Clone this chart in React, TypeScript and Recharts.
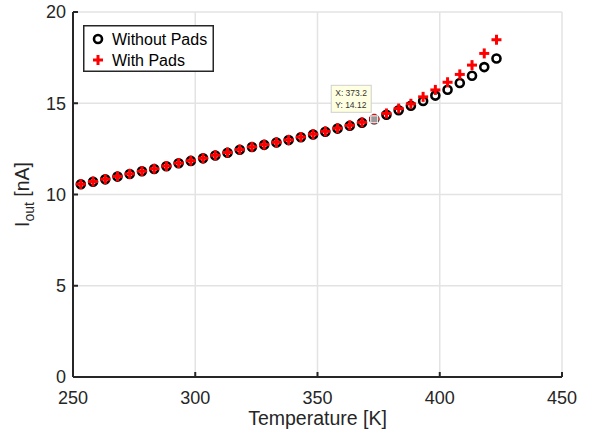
import React from 'react';
import { ScatterChart, Scatter, XAxis, YAxis, CartesianGrid, Legend, ReferenceDot } from 'recharts';

const temperatures = [
  253.2, 258.2, 263.2, 268.2, 273.2, 278.2, 283.2, 288.2, 293.2, 298.2,
  303.2, 308.2, 313.2, 318.2, 323.2, 328.2, 333.2, 338.2, 343.2, 348.2,
  353.2, 358.2, 363.2, 368.2, 373.2, 378.2, 383.2, 388.2, 393.2, 398.2,
  403.2, 408.2, 413.2, 418.2, 423.2,
];
const withoutPads = [
  10.56, 10.7, 10.83, 10.98, 11.12, 11.27, 11.4, 11.55, 11.71, 11.84,
  11.98, 12.14, 12.29, 12.45, 12.6, 12.72, 12.85, 12.98, 13.14, 13.29,
  13.44, 13.61, 13.77, 13.93, 14.12, 14.37, 14.62, 14.86, 15.12, 15.42,
  15.74, 16.11, 16.51, 16.98, 17.45,
];
const withPads = [
  10.57, 10.71, 10.84, 10.99, 11.13, 11.28, 11.41, 11.56, 11.72, 11.85,
  11.99, 12.15, 12.3, 12.46, 12.61, 12.73, 12.86, 12.99, 13.15, 13.31,
  13.46, 13.63, 13.79, 13.96, 14.15, 14.44, 14.71, 14.97, 15.35, 15.73,
  16.15, 16.58, 17.09, 17.73, 18.48,
];
const xTicks = [250, 300, 350, 400, 450];
const yTicks = [0, 5, 10, 15, 20];
const seriesNames = ['Without Pads', 'With Pads'];
const datatip = { x: 373.2, y: 14.12 };

const dataWithout = temperatures.map((t, i) => ({ t, y: withoutPads[i] }));
const dataWith = temperatures.map((t, i) => ({ t, y: withPads[i] }));

const FONT = '"Liberation Sans", Arial, Helvetica, sans-serif';
const AXIS = '#262626';

const Circle = (props: any) => {
  const { cx, cy } = props;
  return <circle cx={cx} cy={cy} r={4} fill="none" stroke="#000" strokeWidth={2.6} />;
};
const Plus = (props: any) => {
  const { cx, cy } = props;
  return (
    <g stroke="#ff0000" strokeWidth={3}>
      <line x1={cx - 5} y1={cy} x2={cx + 5} y2={cy} />
      <line x1={cx} y1={cy - 5} x2={cx} y2={cy + 5} />
    </g>
  );
};

const TipShape = (props: any) => {
  const { cx, cy } = props;
  return (
    <g>
      <rect x={cx - 3.5} y={cy - 3.5} width={7} height={7} fill="#9a9a9a" stroke="#ffffff" strokeWidth={1} />
      <rect x={cx - 43} y={cy - 34} width={40} height={27} fill="#ffffe1" stroke="#cfcfcf" strokeWidth={1} />
      <text x={cx - 39} y={cy - 23} fontSize={8.5} fill="#333" fontFamily={FONT}>{`X: ${datatip.x}`}</text>
      <text x={cx - 39} y={cy - 11} fontSize={8.5} fill="#333" fontFamily={FONT}>{`Y: ${datatip.y}`}</text>
    </g>
  );
};

const YLabel = (props: any) => {
  const vb = props.viewBox || { x: 0, y: 12, width: 73, height: 365 };
  const x = vb.x + 29;
  const y = vb.y + vb.height / 2;
  return (
    <text x={x} y={y} transform={`rotate(-90 ${x} ${y})`} textAnchor="middle" fontSize={19.5} fill={AXIS} fontFamily={FONT}>
      <tspan>I</tspan>
      <tspan fontSize={14} dy={5}>out</tspan>
      <tspan dy={-5}> [nA]</tspan>
    </text>
  );
};

const LegendBox = () => (
  <div style={{ width: 131, height: 47 }}>
    <svg width={131} height={47} style={{ display: 'block' }}>
      <rect x={0.75} y={0.75} width={129.5} height={45.5} fill="#fff" stroke="#262626" strokeWidth={1.5} />
      <circle cx={15} cy={14} r={4} fill="none" stroke="#000" strokeWidth={2.6} />
      <g stroke="#ff0000" strokeWidth={3}>
        <line x1={10} y1={35} x2={20} y2={35} />
        <line x1={15} y1={30} x2={15} y2={40} />
      </g>
      <text x={29} y={20} fontSize={16} fill="#000" fontFamily={FONT}>{seriesNames[0]}</text>
      <text x={29} y={41} fontSize={16} fill="#000" fontFamily={FONT}>{seriesNames[1]}</text>
    </svg>
  </div>
);

export default function App() {
  return (
    <div style={{ position: 'absolute', left: 0, top: 0, width: 589, height: 433, background: '#fff' }}>
      <ScatterChart width={589} height={433} margin={{ top: 12, right: 27, left: 0, bottom: 0 }}>
        <CartesianGrid stroke="#e3e3e3" strokeWidth={1.5} horizontalValues={yTicks} verticalValues={xTicks} />
        <XAxis
          type="number"
          dataKey="t"
          domain={[250, 450]}
          ticks={xTicks}
          height={56}
          stroke={AXIS}
          axisLine={{ stroke: AXIS, strokeWidth: 2 }}
          tickLine={{ stroke: AXIS, strokeWidth: 2 }}
          tickSize={-5}
          tickMargin={19}
          tick={{ fontSize: 18, fill: AXIS, fontFamily: FONT }}
          label={{ value: 'Temperature [K]', position: 'insideBottom', offset: 8, fontSize: 19.5, fill: AXIS, fontFamily: FONT }}
        />
        <YAxis
          type="number"
          dataKey="y"
          domain={[0, 20]}
          ticks={yTicks}
          width={73}
          stroke={AXIS}
          axisLine={{ stroke: AXIS, strokeWidth: 2 }}
          tickLine={{ stroke: AXIS, strokeWidth: 2 }}
          tickSize={-5}
          tickMargin={12}
          tick={{ fontSize: 18, fill: AXIS, fontFamily: FONT }}
          label={<YLabel />}
        />
        <Legend
          layout="vertical"
          align="center"
          verticalAlign="middle"
          content={() => <LegendBox />}
          wrapperStyle={{ position: 'absolute', left: 83, top: 25, width: 131, height: 47 }}
        />
        <Scatter name={seriesNames[0]} data={dataWithout} shape={<Circle />} isAnimationActive={false} />
        <Scatter name={seriesNames[1]} data={dataWith} shape={<Plus />} isAnimationActive={false} />
        <ReferenceDot x={datatip.x} y={datatip.y} shape={<TipShape />} />
      </ScatterChart>
    </div>
  );
}
